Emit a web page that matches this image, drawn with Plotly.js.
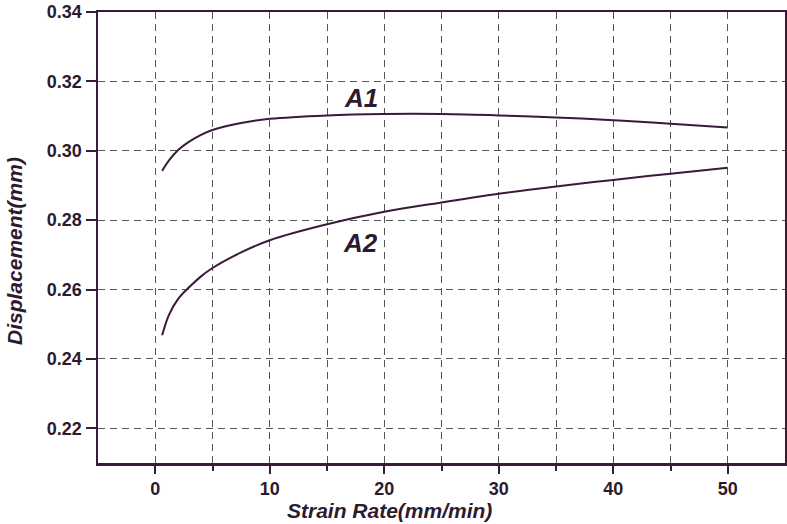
<!DOCTYPE html>
<html>
<head>
<meta charset="utf-8">
<script src="https://cdn.plot.ly/plotly-3.0.1.min.js"></script>
<style>
  html, body { margin: 0; padding: 0; background: #fff; }
  #chart { width: 787px; height: 524px; }
</style>
</head>
<body>
<div id="chart"></div>
<script>
// values
const strainRateA1 = [0.6, 1.2, 2, 3, 4, 5, 7.5, 10, 15, 20, 25, 30, 35, 40, 45, 50];
const displacementA1 = [0.2942, 0.2972, 0.3002, 0.3027, 0.3046, 0.3060, 0.3080, 0.3092, 0.3102, 0.3106, 0.3106, 0.3102, 0.3096, 0.3088, 0.3078, 0.3067];

const strainRateA2 = [0.6, 1.2, 2, 3, 4, 5, 7.5, 10, 15, 20, 25, 30, 35, 40, 45, 50];
const displacementA2 = [0.2468, 0.2527, 0.2573, 0.2608, 0.2638, 0.2662, 0.2707, 0.2742, 0.2788, 0.2824, 0.2851, 0.2876, 0.2897, 0.2916, 0.2934, 0.2951];

const curveLabels = ['A1', 'A2'];
const labelX = [18.0, 17.9];
const labelY = [0.3152, 0.2734];

const ink = '#3a1a38';
const textInk = '#2e1a2e';
const fontFamily = 'Liberation Sans, Arial, sans-serif';

const lineStyle = { color: ink, width: 2, shape: 'spline', smoothing: 1 };

const traces = [
  { x: strainRateA1, y: displacementA1, type: 'scatter', mode: 'lines', line: lineStyle, name: 'A1' },
  { x: strainRateA2, y: displacementA2, type: 'scatter', mode: 'lines', line: lineStyle, name: 'A2' }
];

const gridDash = '7px,5px';

const layout = {
  width: 787,
  height: 524,
  margin: { l: 98, r: 2, t: 12, b: 61 },
  paper_bgcolor: '#ffffff',
  plot_bgcolor: '#ffffff',
  showlegend: false,
  font: { family: fontFamily, color: textInk },
  xaxis: {
    range: [-5, 55],
    tickvals: [0, 10, 20, 30, 40, 50],
    ticks: 'outside',
    ticklen: 8,
    tickwidth: 2,
    tickcolor: ink,
    showline: true,
    linecolor: ink,
    linewidth: 2.5,
    mirror: true,
    showgrid: true,
    gridcolor: '#555555',
    gridwidth: 1,
    griddash: gridDash,
    zeroline: false,
    tickfont: { size: 18, weight: 'bold', color: textInk },
    minor: {
      tickvals: [5, 15, 25, 35, 45],
      ticks: 'outside',
      ticklen: 5,
      tickwidth: 2,
      tickcolor: ink,
      showgrid: true,
      gridcolor: '#555555',
      gridwidth: 1,
      griddash: gridDash
    }
  },
  yaxis: {
    range: [0.21, 0.34],
    tickvals: [0.22, 0.24, 0.26, 0.28, 0.30, 0.32, 0.34],
    tickformat: '.2f',
    ticks: 'outside',
    ticklen: 10,
    tickwidth: 2,
    tickcolor: ink,
    showline: true,
    linecolor: ink,
    linewidth: 2.5,
    mirror: true,
    showgrid: true,
    gridcolor: '#555555',
    gridwidth: 1,
    griddash: gridDash,
    zeroline: false,
    tickfont: { size: 18, weight: 'bold', color: textInk }
  },
  annotations: [
    // axis titles placed where the reference has them
    {
      text: 'Strain Rate(mm/min)', xref: 'paper', yref: 'paper',
      x: (389.5 - 98) / (787 - 98 - 2), y: -(510 - 463) / (524 - 12 - 61),
      xanchor: 'center', yanchor: 'middle', showarrow: false,
      font: { size: 21, weight: 'bold', style: 'italic', color: textInk }
    },
    {
      text: 'Displacement(mm)', xref: 'paper', yref: 'paper',
      x: -(98 - 14) / (787 - 98 - 2), y: (463 - 251) / (524 - 12 - 61),
      xanchor: 'center', yanchor: 'middle', textangle: -90, showarrow: false,
      font: { size: 21, weight: 'bold', style: 'italic', color: textInk }
    }
  ].concat(curveLabels.map((t, i) => ({
    text: t, x: labelX[i], y: labelY[i], xref: 'x', yref: 'y',
    showarrow: false, xanchor: 'center', yanchor: 'middle',
    font: { size: 26, weight: 'bold', style: 'italic', color: textInk }
  })))
};

Plotly.newPlot('chart', traces, layout, { displayModeBar: false, staticPlot: true });
</script>
</body>
</html>
